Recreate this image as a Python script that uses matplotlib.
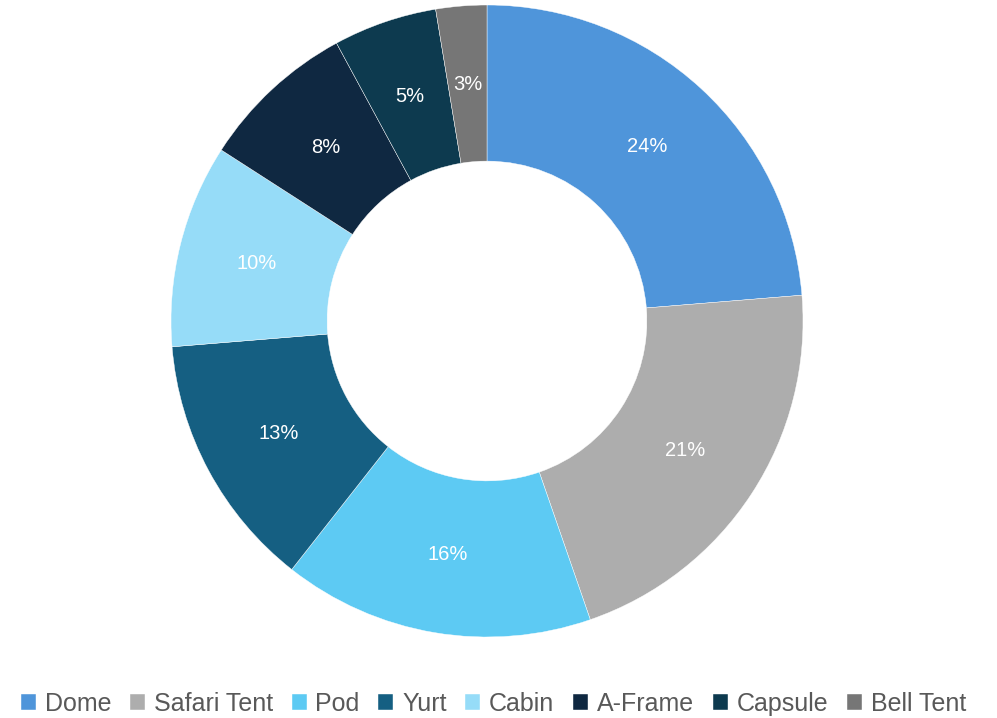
import matplotlib
matplotlib.use("Agg")
import matplotlib.pyplot as plt

categories = ["Dome", "Safari Tent", "Pod", "Yurt", "Cabin", "A-Frame", "Capsule", "Bell Tent"]
shares = [23.7, 21.0, 15.9, 13.1, 10.4, 8.0, 5.3, 2.6]
colors = ["#4F95DA", "#ADADAD", "#5DCAF3", "#155F82", "#96DCF8", "#0F2841", "#0D3A4F", "#767676"]

plt.rcParams["font.family"] = ["Liberation Sans", "DejaVu Sans"]

W, H = 997, 718
fig = plt.figure(figsize=(W / 100, H / 100), dpi=100)

# donut centre ~ (487, 321) px, outer radius ~316 px
cx, cy, r = 487, 321, 316
ax = fig.add_axes([(cx - r) / W, (H - cy - r) / H, 2 * r / W, 2 * r / H])

wedges, texts, autotexts = ax.pie(
    shares, colors=colors, startangle=90, counterclock=False,
    radius=1.0, wedgeprops=dict(width=0.494, edgecolor="white", linewidth=0.3),
    autopct=lambda p: f"{p:.0f}%", pctdistance=0.75,
    textprops=dict(color="white", fontsize=14.5),
)
ax.set_xlim(-1, 1)
ax.set_ylim(-1, 1)
ax.set_aspect("equal")
ax.axis("off")

leg = fig.legend(wedges, categories, loc="center", bbox_to_anchor=(0.495, 1 - 704 / H),
                 ncol=len(categories), frameon=False, fontsize=18,
                 handlelength=0.6, handleheight=0.6, handletextpad=0.35,
                 columnspacing=0.75)
for t in leg.get_texts():
    t.set_color("#595959")

fig.savefig("out.png", dpi=100)
plt.close(fig)
